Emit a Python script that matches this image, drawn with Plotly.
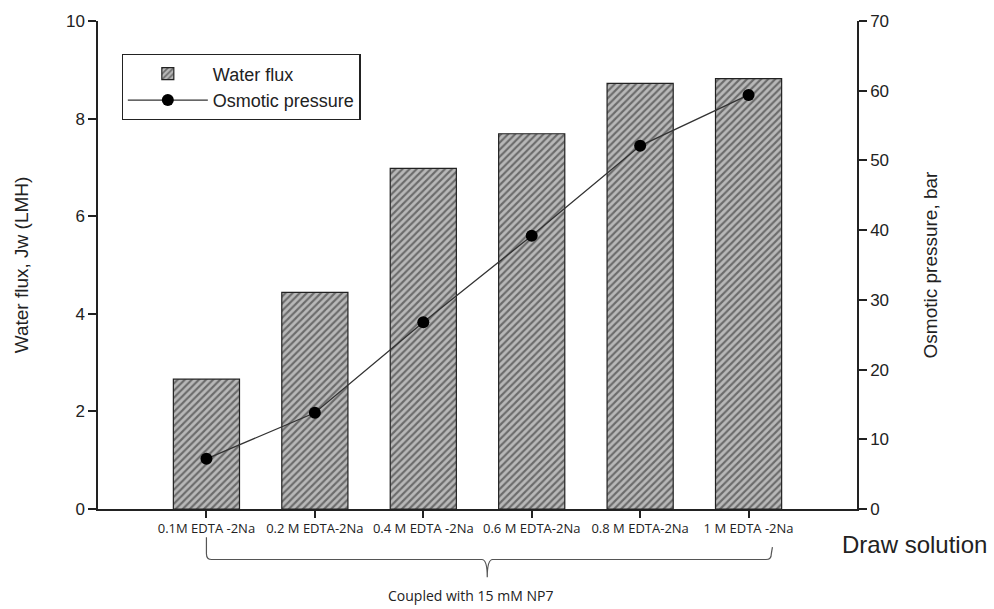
import plotly.graph_objects as go

# Draw solutions tested (each coupled with 15 mM NP7)
categories = ["0.1M EDTA -2Na", "0.2 M EDTA-2Na", "0.4 M EDTA -2Na",
              "0.6 M EDTA-2Na", "0.8 M EDTA-2Na", "1 M EDTA -2Na"]
water_flux = [2.66, 4.44, 6.98, 7.69, 8.72, 8.82]          # LMH
osmotic_pressure = [7.2, 13.8, 26.8, 39.2, 52.1, 59.4]      # bar

flux_ticks = [0, 2, 4, 6, 8, 10]
pressure_ticks = [0, 10, 20, 30, 40, 50, 60, 70]

x_pos = list(range(len(categories)))

fig = go.Figure()

fig.add_trace(go.Bar(
    x=x_pos, y=water_flux, name="Water flux", width=0.61,
    marker=dict(color="#b4b4b4",
                line=dict(color="#222222", width=1.2),
                pattern=dict(shape="/", fgcolor="#1e1e1e", bgcolor="#b8b8b8",
                             size=5, solidity=0.42)),
    yaxis="y",
))

fig.add_trace(go.Scatter(
    x=x_pos, y=osmotic_pressure, name="Osmotic pressure", mode="lines+markers",
    line=dict(color="#333333", width=1.3),
    marker=dict(color="black", size=12, symbol="circle"),
    yaxis="y2",
))

arial = "Arial, Liberation Sans, sans-serif"
axis_font = dict(family=arial, size=17, color="#222222")

fig.update_layout(
    width=994, height=609,
    margin=dict(l=98, r=137, t=16, b=100),
    paper_bgcolor="white", plot_bgcolor="white",
    showlegend=True,
    legend=dict(x=0.031, y=0.932, xanchor="left", yanchor="top",
                bordercolor="#222222", borderwidth=1.3, bgcolor="white",
                font=dict(family=arial, size=18, color="#222222"),
                itemwidth=80, tracegroupgap=2),
    xaxis=dict(range=[-1, 6], tickmode="array", tickvals=x_pos, ticktext=categories,
               showline=True, linecolor="#222222", linewidth=1.5,
               ticks="outside", ticklen=7, tickcolor="#222222", tickwidth=1.5,
               showgrid=False, zeroline=False,
               tickfont=dict(family="Open Sans, sans-serif", size=13, color="#222222")),
    yaxis=dict(range=[0, 10], tickvals=flux_ticks,
               showline=True, linecolor="#222222", linewidth=1.5,
               ticks="outside", ticklen=8, tickcolor="#222222", tickwidth=1.5,
               showgrid=False, zeroline=False, tickfont=axis_font,
               title=dict(text="Water flux, Jw (LMH)", standoff=32,
                          font=dict(family=arial, size=19, color="#222222"))),
    yaxis2=dict(range=[0, 70], tickvals=pressure_ticks, overlaying="y", side="right",
                showline=True, linecolor="#222222", linewidth=1.5,
                ticks="outside", ticklen=8, tickcolor="#222222", tickwidth=1.5,
                showgrid=False, zeroline=False, tickfont=axis_font,
                title=dict(text="Osmotic pressure, bar", standoff=36,
                           font=dict(family=arial, size=19, color="#222222"))),
)

# Axis caption for the draw solutions
fig.add_annotation(text="Draw solution", xref="paper", yref="paper",
                   x=1.076, y=-0.073, xanchor="center", yanchor="middle", showarrow=False,
                   font=dict(family=arial, size=24, color="#222222"))

# Bracket grouping all draw solutions
brace_col = "#555555"
bx0, bx1, bmid = 0.0, 5.21, 2.59
ytop, ybar, ytip = -0.058, -0.1035, -0.140
r = 0.05
fig.add_shape(type="path", xref="x", yref="paper",
              path=(f"M {bx0},{ytop} L {bx0},{ybar + 0.012} Q {bx0},{ybar} {bx0 + r},{ybar} "
                    f"L {bmid - r},{ybar} Q {bmid},{ybar} {bmid},{ytip} "
                    f"Q {bmid},{ybar} {bmid + r},{ybar} "
                    f"L {bx1 - r},{ybar} Q {bx1},{ybar} {bx1},{ybar + 0.012} L {bx1 + 0.01},{-0.078}"),
              line=dict(color=brace_col, width=1.2))

fig.add_annotation(text="Coupled with 15 mM NP7", xref="x", yref="paper",
                   x=2.44, y=-0.178, xanchor="center", yanchor="middle", showarrow=False,
                   font=dict(family="Open Sans, sans-serif", size=14, color="#222222"))

fig.write_html("out.html")
